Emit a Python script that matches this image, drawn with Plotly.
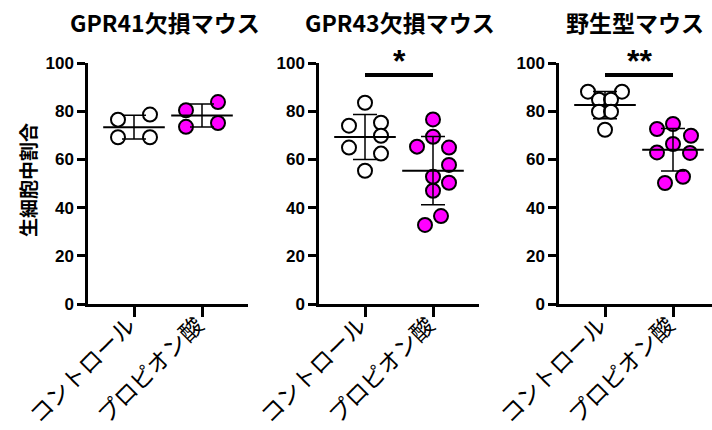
import numpy as np
import plotly.graph_objects as go

# ---------------- data ----------------
categories = ["コントロール", "プロピオン酸"]
panel_titles = ["GPR41欠損マウス", "GPR43欠損マウス", "野生型マウス"]
y_tick_values = [0, 20, 40, 60, 80, 100]
y_title = "生細胞中割合"

gpr41_control = [76.5, 78.6, 69.2, 69.2]
gpr41_propionate = [80.4, 83.8, 73.5, 75.1]
gpr43_control = [83.5, 74.0, 75.2, 69.8, 64.9, 62.4, 55.3]
gpr43_propionate = [76.6, 69.4, 65.3, 64.9, 57.7, 52.8, 50.3, 47.0, 36.5, 32.8]
wt_control = [88.1, 88.1, 84.8, 84.8, 79.8, 79.8, 72.3]
wt_propionate = [74.7, 72.6, 69.8, 66.4, 62.9, 62.7, 52.8, 50.2]
significance_labels = ["", "*", "**"]
significance_level = [None, 95, 95]

# ---------------- layout / style (not data) ----------------
W, H = 712, 430
PX_PER_CAT = 68.0
AXIS_LEFT_PX = [88, 319, 559]
AXIS_LEN_PX = 160
Y0_PX, Y100_PX = 304, 63
FILL = ["white", "#ff00ff"]

# horizontal scatter offsets (pixels) of each dot, swarm-like arrangement
swarm_px = [
    ([-16, 16, -16, 16], [-16, 16, -16, 16]),
    ([0, -16, 16, 16, -16, 16, 0], [0, 0, -16, 16, 16, 0, 16, 0, 8, -8]),
    ([-17, 17, -6, 6, -6, 6, 0], [0, -16, 18, 0, -16, 17, 10, -8]),
]

panels = [
    (gpr41_control, gpr41_propionate),
    (gpr43_control, gpr43_propionate),
    (wt_control, wt_propionate),
]

fig = go.Figure()
font_num = dict(family="Liberation Sans, Arial", size=17, color="black", weight="bold")
font_cjk = "Noto Sans CJK JP"

for p, (ctrl, prop) in enumerate(panels):
    n = "" if p == 0 else str(p + 1)
    xa, ya = "x" + n, "y" + n
    for c, vals in enumerate((ctrl, prop)):
        vals = np.array(vals, dtype=float)
        offs = np.array(swarm_px[p][c], dtype=float) / PX_PER_CAT
        fig.add_trace(go.Scatter(
            x=c + offs, y=vals, mode="markers", xaxis=xa, yaxis=ya,
            marker=dict(size=14, color=FILL[c], line=dict(color="black", width=2)),
            cliponaxis=False, showlegend=False, hoverinfo="y"))
        mean = vals.mean()
        sd = vals.std(ddof=1)
        fig.add_trace(go.Scatter(
            x=[c], y=[mean], mode="markers", xaxis=xa, yaxis=ya,
            marker=dict(symbol="line-ew", size=44, line=dict(color="black", width=2)),
            error_y=dict(type="data", array=[sd], visible=True, color="black",
                         thickness=1.5, width=12),
            cliponaxis=False, showlegend=False, hoverinfo="y"))

    left = AXIS_LEFT_PX[p]
    right = min(left + AXIS_LEN_PX, W)
    r0 = -46 / PX_PER_CAT
    r1 = r0 + (right - left) / PX_PER_CAT
    fig.layout["xaxis" + n] = dict(
        domain=[left / W, right / W], range=[r0, r1], anchor=ya, automargin=False,
        tickmode="array", tickvals=[0, 1], ticktext=categories, tickangle=-45,
        tickfont=dict(family=font_cjk, size=23, color="black"),
        ticklabelstandoff=-14, ticklabelshift=-5,
        showline=True, linecolor="black", linewidth=2.5, ticks="outside",
        ticklen=10, tickwidth=2.5, tickcolor="black", showgrid=False, zeroline=False,
        fixedrange=True)
    fig.layout["yaxis" + n] = dict(
        domain=[1 - Y0_PX / H, 1 - Y100_PX / H], range=[0, 100], anchor=xa,
        automargin=False,
        tickmode="array", tickvals=y_tick_values, tickfont=font_num,
        showline=True, linecolor="black", linewidth=2.5, ticks="outside",
        ticklen=8, tickwidth=2.5, tickcolor="black", showgrid=False, zeroline=False,
        fixedrange=True)

    if significance_labels[p]:
        fig.add_shape(type="line", xref=xa, yref=ya, x0=0, x1=1,
                      y0=significance_level[p], y1=significance_level[p],
                      line=dict(color="black", width=4))
        fig.add_annotation(xref=xa, yref=ya, x=0.5, y=significance_level[p],
                           text=significance_labels[p], showarrow=False,
                           yanchor="bottom", yshift=-6,
                           font=dict(family="Liberation Sans, Arial", size=32,
                                     color="black", weight="bold"))

title_x_px = [165, 400, 635]
for p, t in enumerate(panel_titles):
    fig.add_annotation(xref="paper", yref="paper", x=title_x_px[p] / W, y=1 - 22 / H,
                       text=t, showarrow=False, xanchor="center", yanchor="middle",
                       font=dict(family=font_cjk, size=23, color="black", weight="bold"))

fig.add_annotation(xref="paper", yref="paper", x=27 / W, y=1 - 180 / H,
                   text=y_title, showarrow=False, textangle=-90,
                   xanchor="center", yanchor="middle",
                   font=dict(family=font_cjk, size=19, color="black", weight="bold"))

fig.update_layout(width=W, height=H, margin=dict(l=0, r=0, t=0, b=0),
                  paper_bgcolor="white", plot_bgcolor="white", showlegend=False)

fig.write_html("out.html", config={"displayModeBar": False},
               post_script="document.body.style.margin='0';"
                           "document.body.style.overflow='hidden';")
